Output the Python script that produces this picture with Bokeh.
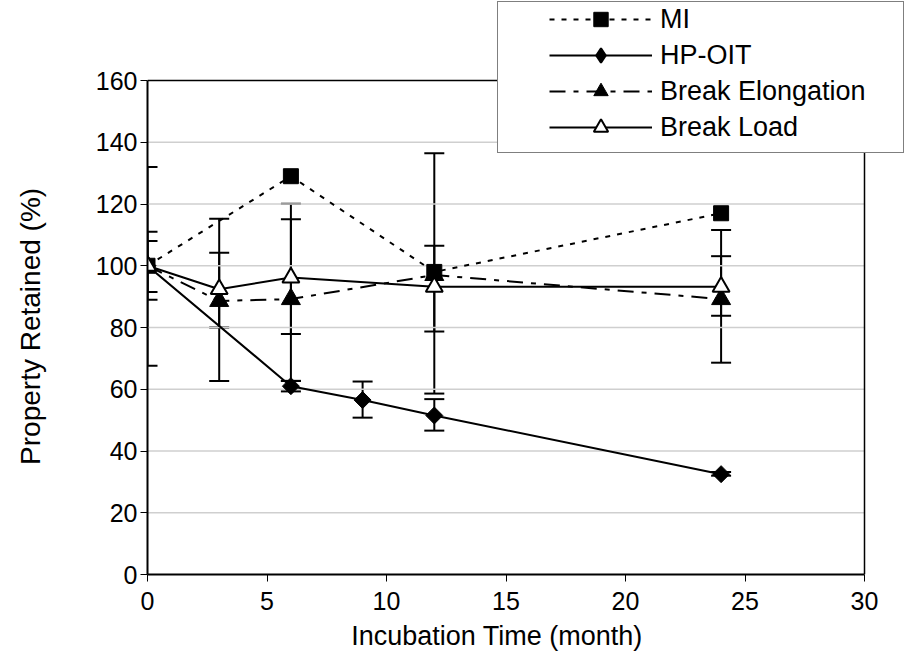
import numpy as np
from bokeh.plotting import figure
from bokeh.models import (ColumnDataSource, Whisker, TeeHead, Legend, LegendItem,
                          FixedTicker, Range1d)
from bokeh.embed import file_html
from bokeh.resources import INLINE

# ---------------- data ----------------
mi_months = [0, 6, 12, 24]
mi_values = [100, 129, 98, 117]

hp_months = [0, 6, 9, 12, 24]
hp_values = [100, 61, 56.5, 51.5, 32.5]
hp_upper = [108, 62.7, 62.5, 56.8, 33.2]
hp_lower = [91.5, 59.3, 50.8, 46.6, 32.0]

be_months = [0, 3, 6, 12, 24]
be_values = [100, 88.6, 89.2, 97, 89.2]
be_upper = [132, 115.2, 115.1, 136.4, 111.6]
be_lower = [67.6, 62.7, 62.7, 58.6, 68.6]

bl_months = [0, 3, 6, 12, 24]
bl_values = [100, 92.4, 96.2, 93.2, 93.2]
bl_upper = [111, 104.2, 120.1, 106.5, 103.1]
bl_lower = [89, 80, 77.9, 78.7, 83.8]

x_ticks = [0, 5, 10, 15, 20, 25, 30]
y_ticks = [0, 20, 40, 60, 80, 100, 120, 140, 160]
x_max, y_max = 30, 160

FONT = "Liberation Sans"
NBSP = "\u00a0"

# plot frame spans up to the window's top/right so the legend may overlap
# the area outside the axes box; the box itself is drawn at the axis limits
LEFT, BOTTOM = 147, 92
PX_X = (864 - 147) / x_max
PX_Y = (574 - 80) / y_max
x_hi = (906 - LEFT) / PX_X
y_hi = (666 - BOTTOM) / PX_Y

p = figure(width=906, height=666, output_backend="svg", toolbar_location=None,
           x_range=Range1d(0, x_hi), y_range=Range1d(0, y_hi),
           min_border_left=LEFT, min_border_right=0, min_border_top=0,
           min_border_bottom=BOTTOM)
p.background_fill_color = "white"
p.border_fill_color = "white"
p.outline_line_color = None
p.xgrid.grid_line_color = None
p.ygrid.grid_line_color = None

p.xaxis.ticker = FixedTicker(ticks=x_ticks)
p.yaxis.ticker = FixedTicker(ticks=y_ticks)
p.xaxis.bounds = (0, x_max)
p.yaxis.bounds = (0, y_max)
for ax in (p.xaxis[0], p.yaxis[0]):
    ax.axis_line_color = "black"
    ax.axis_line_width = 2
    ax.major_tick_line_color = "black"
    ax.major_tick_line_width = 1
    ax.major_tick_out = 7
    ax.major_tick_in = 0
    ax.minor_tick_line_color = None
    ax.major_label_text_font = FONT
    ax.major_label_text_font_size = "25px"
    ax.major_label_text_color = "black"
    ax.axis_label_text_font = FONT
    ax.axis_label_text_font_style = "normal"
    ax.axis_label_text_color = "black"
p.xaxis.axis_label_text_font_size = "27px"
p.yaxis.axis_label_text_font_size = "28px"
# trailing no-break spaces keep the labels centred on the axes box
p.xaxis.axis_label = "Incubation Time (month)" + NBSP * 8
p.yaxis.axis_label = "Property Retained (%)" + NBSP * 10
p.xaxis.major_label_standoff = 10
p.yaxis.major_label_standoff = 3
p.xaxis.axis_label_standoff = 8
p.yaxis.axis_label_standoff = 47

# horizontal grid lines, limited to the axes box
grid_y = y_ticks[1:-1]
p.segment(x0=[0] * len(grid_y), y0=grid_y, x1=[x_max] * len(grid_y), y1=grid_y,
          line_color="#cfcfcf", line_width=1.5)
# right and top border of the axes box
p.segment(x0=[x_max, 0], y0=[0, y_max], x1=[x_max, x_max], y1=[y_max, y_max],
          line_color="black", line_width=1.5)

LW = 2

def add_whisker(xs, lo, up):
    src = ColumnDataSource(dict(x=xs, lo=lo, up=up))
    w = Whisker(source=src, base="x", lower="lo", upper="up",
                line_color="black", line_width=LW,
                upper_head=TeeHead(size=20, line_color="black", line_width=LW),
                lower_head=TeeHead(size=20, line_color="black", line_width=LW))
    p.add_layout(w)

# MI
mi_line = p.line(mi_months, mi_values, line_color="black", line_width=LW, line_dash="5 7")
mi_mark = p.scatter(mi_months, mi_values, marker="square", size=15,
                    fill_color="black", line_color="black")
# HP-OIT
add_whisker(hp_months, hp_lower, hp_upper)
hp_line = p.line(hp_months, hp_values, line_color="black", line_width=LW)
hp_mark = p.scatter(hp_months, hp_values, marker="square", angle=np.pi / 4, size=12,
                    fill_color="black", line_color="black")
# legend-only diamond (placed outside the visible ranges)
hp_key = p.scatter([-50], [-50], marker="diamond", size=16,
                   fill_color="black", line_color="black", line_width=2)
# Break Elongation
add_whisker(be_months, be_lower, be_upper)
be_line = p.line(be_months, be_values, line_color="black", line_width=LW, line_dash="16 8 5 8")
be_mark = p.scatter(be_months, be_values, marker="triangle", size=19,
                    fill_color="black", line_color="black")
# Break Load
add_whisker(bl_months, bl_lower, bl_upper)
bl_line = p.line(bl_months, bl_values, line_color="black", line_width=LW)
bl_mark = p.scatter(bl_months, bl_values, marker="triangle", size=17,
                    fill_color="white", line_color="black", line_width=2)

# legend box (frame of the legend)
dummy = p.scatter([0], [0], size=0, alpha=0)
box = Legend(items=[LegendItem(label=" ", renderers=[dummy])],
             location=(350, 421), padding=0, margin=0, spacing=0,
             glyph_width=300, glyph_height=150, label_width=105, label_height=150,
             label_standoff=0, border_line_color="black", border_line_width=1.5,
             background_fill_color="white", background_fill_alpha=1.0,
             label_text_font_size="1px")
p.add_layout(box)

leg = Legend(items=[
    LegendItem(label="MI", renderers=[mi_line, mi_mark]),
    LegendItem(label="HP-OIT", renderers=[hp_line, hp_key]),
    LegendItem(label="Break Elongation", renderers=[be_line, be_mark]),
    LegendItem(label="Break Load", renderers=[bl_line, bl_mark]),
], location=(402, 429), padding=0, margin=0, spacing=-2,
    glyph_width=103, glyph_height=36, label_height=36, label_standoff=8,
    border_line_alpha=0, background_fill_alpha=0,
    label_text_font=FONT, label_text_font_size="27px", label_text_color="black")
p.add_layout(leg)

open("out.html", "w").write(file_html(p, INLINE))
